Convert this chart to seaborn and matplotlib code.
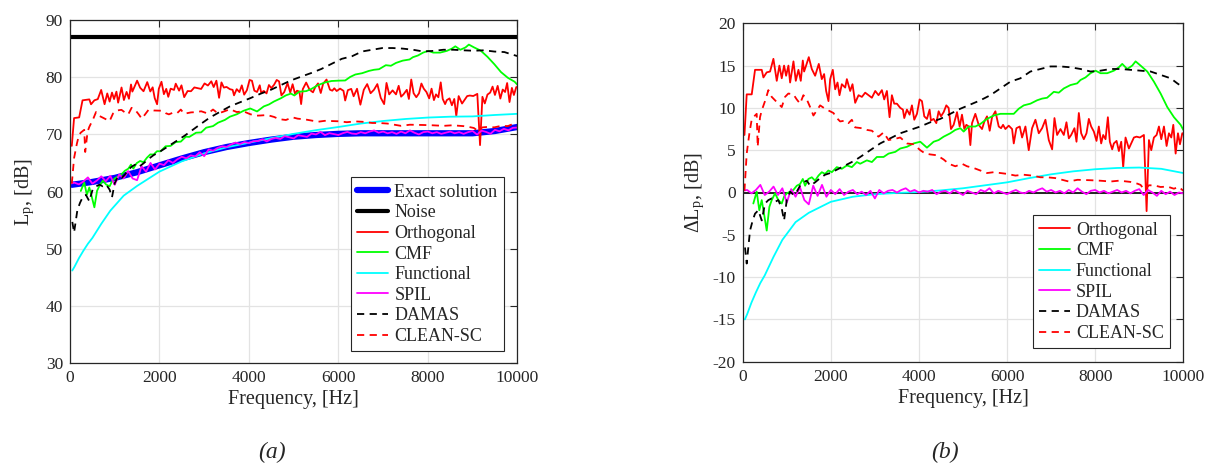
import numpy as np
import matplotlib
matplotlib.use("Agg")
import matplotlib.pyplot as plt
import seaborn as sns

# ---- data (frequency in Hz, levels in dB) ----
exact_f = [40, 500, 1000, 1500, 2000, 2500, 3000, 3500, 4000, 4500, 5000,
           5500, 6000, 6500, 7000, 7500, 8000, 8500, 9000, 9500, 10000]
exact_l = [61.2, 61.7, 62.4, 63.4, 64.6, 65.8, 66.9, 67.8, 68.5, 69.1, 69.6,
           69.9, 70.1, 70.2, 70.2, 70.2, 70.2, 70.2, 70.2, 70.6, 71.3]

noise_f = [0, 10000]
noise_l = [87.0, 87.0]

# deltas relative to the exact solution (right panel)
orth_f = [40, 91, 205, 280, 432, 470, 545, 621, 697, 773,
          833, 886, 939, 985, 1038, 1076, 1152, 1205, 1265, 1318,
          1364, 1394, 1439, 1500, 1568, 1644, 1727, 1795, 1848, 1894,
          1947, 1985, 2045, 2099, 2152, 2197, 2250, 2326, 2364, 2439,
          2492, 2553, 2629, 2705, 2780, 2856, 2932, 3008, 3083, 3159,
          3212, 3273, 3333, 3386, 3439, 3500, 3576, 3636, 3667, 3727,
          3788, 3841, 3894, 3955, 4015, 4068, 4121, 4182, 4242, 4273,
          4333, 4394, 4447, 4500, 4561, 4621, 4674, 4727, 4788, 4864,
          4924, 4977, 5030, 5076, 5129, 5167, 5205, 5280, 5356, 5432,
          5485, 5545, 5606, 5659, 5735, 5811, 5864, 5909, 5962, 6038,
          6114, 6152, 6212, 6288, 6341, 6417, 6492, 6568, 6644, 6720,
          6795, 6871, 6947, 7023, 7076, 7136, 7212, 7288, 7348, 7402,
          7455, 7530, 7576, 7629, 7682, 7742, 7803, 7856, 7909, 7970,
          8030, 8083, 8136, 8182, 8235, 8288, 8333, 8386, 8424, 8485,
          8538, 8591, 8636, 8689, 8765, 8818, 8879, 8939, 9015, 9106,
          9167, 9220, 9273, 9333, 9394, 9447, 9500, 9561, 9621, 9674,
          9727, 9773, 9826, 9879, 9924, 9977, 10000]
orth_d = [6.8, 11.6, 11.6, 14.5, 14.5, 13.6, 14.2, 14.3, 15.8, 13.2,
          15.0, 13.5, 15.0, 13.8, 15.0, 13.0, 15.5, 13.2, 14.5, 13.2,
          15.6, 14.3, 15.0, 16.0, 14.6, 13.8, 15.2, 13.4, 14.0, 12.0,
          10.8, 13.4, 14.5, 12.2, 13.0, 11.5, 12.8, 12.4, 13.4, 12.0,
          12.8, 10.6, 11.5, 11.3, 11.8, 11.5, 11.2, 12.0, 11.5, 12.1,
          11.0, 12.0, 8.9, 11.5, 10.5, 10.5, 10.0, 9.8, 8.8, 9.8,
          9.2, 10.3, 8.6, 9.3, 11.0, 10.8, 9.0, 8.7, 9.8, 8.5,
          8.7, 8.2, 9.6, 9.0, 9.5, 10.3, 10.0, 7.5, 8.0, 9.5,
          7.8, 9.2, 7.5, 8.0, 7.8, 5.6, 8.2, 9.3, 8.0, 7.5,
          8.4, 9.0, 7.3, 8.9, 9.6, 7.8, 7.6, 8.0, 7.5, 7.9,
          7.5, 5.8, 7.6, 7.8, 6.5, 7.8, 5.0, 7.6, 8.6, 7.0,
          7.6, 8.6, 6.2, 5.1, 8.8, 6.8, 7.5, 6.8, 8.3, 6.4,
          6.8, 7.6, 6.0, 9.4, 7.0, 6.3, 7.0, 8.7, 7.8, 7.2,
          6.1, 7.8, 5.8, 6.8, 6.3, 8.9, 6.0, 5.1, 5.8, 6.1,
          4.9, 6.0, 3.0, 6.5, 5.2, 5.8, 6.5, 6.6, 6.5, 6.8,
          -2.2, 6.2, 5.0, 6.5, 6.8, 7.8, 6.3, 7.8, 5.5, 7.0,
          6.5, 8.0, 4.6, 7.0, 5.7, 7.0, 7.0]

cmf_f = [241, 318, 377, 432, 484, 545, 605, 659, 734, 809,
         886, 939, 1000, 1075, 1150, 1227, 1302, 1364, 1416, 1491,
         1568, 1643, 1720, 1795, 1870, 1945, 2023, 2136, 2250, 2364,
         2477, 2591, 2667, 2818, 2932, 3045, 3197, 3311, 3462, 3576,
         3727, 3879, 4030, 4182, 4333, 4447, 4561, 4712, 4826, 4939,
         5015, 5129, 5280, 5394, 5545, 5697, 5848, 6000, 6152, 6265,
         6379, 6530, 6682, 6795, 6909, 7061, 7174, 7288, 7439, 7591,
         7667, 7780, 7894, 8008, 8121, 8273, 8424, 8538, 8614, 8727,
         8841, 8917, 9030, 9182, 9333, 9485, 9636, 9788, 9939, 10000]
cmf_d = [-1.3, 0.1, -2.1, -0.9, -2.5, -4.5, -1.7, -0.9, -0.1, -0.9,
         -1.3, -0.5, -0.1, 0.1, 0.3, 0.8, 1.0, 1.6, 0.8, 1.6,
         1.8, 1.4, 2.0, 2.4, 2.2, 2.6, 2.4, 3.0, 2.8, 3.2,
         3.0, 3.6, 3.4, 3.8, 3.6, 4.2, 4.2, 4.6, 4.8, 5.2,
         5.4, 5.8, 6.0, 5.3, 6.0, 6.2, 6.6, 7.0, 7.4, 7.6,
         7.2, 7.8, 7.8, 8.1, 8.7, 9.1, 9.3, 9.3, 9.3, 9.9,
         10.3, 10.5, 10.9, 11.1, 11.2, 11.9, 11.8, 12.3, 12.7, 12.9,
         13.3, 13.6, 14.1, 14.4, 14.1, 14.1, 14.4, 14.8, 15.2, 14.6,
         15.0, 15.5, 15.0, 14.3, 13.1, 11.7, 10.1, 8.9, 8.0, 7.4]

func_f = [50, 100, 200, 300, 400, 500, 700, 900, 1200, 1500, 2000, 2500,
          3000, 3500, 4000, 4500, 5000, 5500, 6000, 6500, 7000, 7500, 8000,
          8500, 9000, 9500, 10000]
func_d = [-15.0, -14.4, -13.0, -11.8, -10.7, -9.8, -7.6, -5.6, -3.5, -2.4,
          -1.1, -0.5, -0.2, -0.05, 0.05, 0.25, 0.5, 0.85, 1.2, 1.7, 2.15,
          2.5, 2.75, 2.9, 2.95, 2.8, 2.3]

spil_f = list(range(0, 10001, 100))
spil_d = [0.2, 0.3, -0.1, 0.3, 0.9, -0.3, 0.1, 0.7, -0.3, 0.5,
          -1.2, 0.4, -0.5, 0.6, -0.9, -1.4, 0.8, -0.4, 0.9, -0.5,
          0.3, -0.2, 0.4, -0.3, 0.1, 0.3, -0.2, 0.1, -0.3, 0.2,
          -0.7, 0.3, -0.1, 0.2, 0.3, 0.0, 0.3, 0.5, 0.1, 0.3,
          0.0, 0.2, 0.1, 0.3, -0.2, 0.1, 0.2, -0.1, 0.3, 0.0,
          -0.3, 0.2, 0.0, -0.2, 0.3, 0.1, 0.5, -0.1, 0.2, 0.0,
          -0.2, 0.1, 0.3, 0.0, -0.1, 0.2, 0.0, 0.3, 0.5, 0.1,
          0.3, 0.0, 0.2, -0.1, 0.3, 0.0, 0.5, 0.1, -0.2, 0.2,
          0.3, 0.0, 0.2, -0.1, 0.1, 0.3, 0.0, 0.2, -0.1, 0.2,
          0.4, -0.3, 0.3, 0.0, -0.4, 0.2, -0.2, 0.1, -0.3, 0.0,
          -0.1]

damas_f = [52, 91, 166, 227, 280, 355, 432, 507, 582, 659,
           734, 809, 886, 939, 1000, 1075, 1159, 1227, 1302, 1377,
           1455, 1530, 1643, 1757, 1870, 1985, 2100, 2212, 2364, 2439,
           2550, 2667, 2894, 3121, 3348, 3576, 3803, 4030, 4258, 4485,
           4712, 4939, 5167, 5394, 5621, 5848, 6076, 6303, 6530, 6758,
           6985, 7212, 7439, 7667, 7894, 8121, 8348, 8576, 8803, 9030,
           9258, 9485, 9712, 9864, 10000]
damas_d = [-6.5, -8.4, -4.5, -3.3, -2.5, -2.1, -3.3, -1.3, -0.9, -0.7,
           -1.1, -0.9, -1.9, -3.3, -0.9, 0.1, -0.3, 0.1, 0.8, 1.2,
           1.4, 0.8, 1.2, 1.7, 2.1, 2.3, 2.6, 2.9, 3.3, 3.5,
           3.8, 4.2, 5.0, 5.8, 6.4, 7.0, 7.4, 7.8, 8.3, 8.7,
           9.3, 9.9, 10.4, 10.9, 11.5, 12.3, 13.1, 13.5, 14.3, 14.6,
           14.9, 14.9, 14.8, 14.6, 14.3, 14.4, 14.6, 14.6, 14.5, 14.4,
           14.3, 13.9, 13.5, 12.9, 12.4]

clean_f = [40, 91, 152, 200, 241, 318, 340, 393, 432, 520,
           582, 659, 734, 809, 886, 961, 1036, 1150, 1227, 1302,
           1377, 1455, 1530, 1605, 1682, 1757, 1870, 1945, 2059, 2136,
           2211, 2325, 2400, 2477, 2552, 2705, 2818, 2932, 3083, 3197,
           3311, 3424, 3576, 3727, 3879, 4030, 4144, 4258, 4409, 4561,
           4674, 4826, 4977, 5091, 5241, 5393, 5545, 5697, 5850, 6000,
           6189, 6377, 6568, 6757, 6909, 7098, 7250, 7400, 7600, 7893,
           8100, 8348, 8550, 8802, 8955, 9030, 9120, 9218, 9332, 9484,
           9636, 9786, 9900, 10000]
clean_d = [0.2, 4.6, 7.0, 8.5, 8.9, 9.3, 5.4, 8.9, 9.7, 11.0,
           12.1, 11.3, 10.9, 10.5, 10.1, 11.3, 11.7, 11.6, 11.0, 10.5,
           11.5, 11.0, 10.1, 9.1, 9.7, 10.3, 9.9, 9.7, 9.4, 8.8,
           8.4, 8.5, 8.2, 8.6, 7.7, 7.6, 7.4, 7.3, 6.6, 7.1,
           6.2, 6.3, 6.5, 5.8, 5.7, 5.0, 4.6, 4.5, 4.4, 3.9,
           3.4, 3.1, 3.4, 3.1, 2.9, 2.6, 2.3, 2.4, 2.3, 2.2,
           2.0, 2.1, 2.0, 1.8, 1.8, 1.7, 1.5, 1.3, 1.5, 1.45,
           1.4, 1.3, 1.4, 1.25, 1.05, 0.9, 0.3, 0.85, 0.85, 0.65,
           0.7, 0.45, 0.65, 0.2]

methods = [
    ("Orthogonal", orth_f, orth_d, "#ff0000", "-"),
    ("CMF", cmf_f, cmf_d, "#00ff00", "-"),
    ("Functional", func_f, func_d, "#00ffff", "-"),
    ("SPIL", spil_f, spil_d, "#ff00ff", "-"),
    ("DAMAS", damas_f, damas_d, "#000000", "--"),
    ("CLEAN-SC", clean_f, clean_d, "#ff0000", "--"),
]

sns.set_style("white")
plt.rcParams['font.family'] = ['Liberation Serif', 'DejaVu Serif']
plt.rcParams['mathtext.fontset'] = 'stix'
plt.rcParams['axes.unicode_minus'] = False
plt.rcParams['lines.dashed_pattern'] = (4.0, 3.0)

fig = plt.figure(figsize=(12.09, 4.66), dpi=100)
ax1 = fig.add_axes([70 / 1209, 1 - 363.3 / 466, 447.3 / 1209, 343.3 / 466])
ax2 = fig.add_axes([742.7 / 1209, 1 - 361.7 / 466, 440.6 / 1209, 338.4 / 466])

LW = 1.3

# (a) absolute levels = exact + delta
sns.lineplot(x=exact_f, y=exact_l, ax=ax1, color="#0000ff", lw=4.5,
             label="Exact solution", sort=False)
sns.lineplot(x=noise_f, y=noise_l, ax=ax1, color="k", lw=3,
             label="Noise", sort=False)
for name, f, d, c, ls in methods:
    lp = np.interp(f, exact_f, exact_l) + np.array(d)
    sns.lineplot(x=f, y=lp, ax=ax1, color=c, lw=LW, linestyle=ls,
                 label=name, sort=False)

# (b) deviation from exact solution
ax2.axhline(0, color="k", lw=1.2, zorder=1)
for name, f, d, c, ls in methods:
    sns.lineplot(x=f, y=d, ax=ax2, color=c, lw=LW, linestyle=ls,
                 label=name, sort=False)

ax1.set_ylim(30, 90)
ax1.set_yticks(range(30, 91, 10))
ax2.set_ylim(-20, 20)
ax2.set_yticks(range(-20, 21, 5))
ax1.set_ylabel(r"L$_\mathregular{p}$, [dB]", fontsize=14.5, labelpad=6)
ax2.set_ylabel(r"ΔL$_\mathregular{p}$, [dB]", fontsize=14.5, labelpad=4)

for ax in (ax1, ax2):
    ax.set_xlim(0, 10000)
    ax.set_xticks(range(0, 10001, 2000))
    ax.set_xlabel("Frequency, [Hz]", fontsize=14.5, labelpad=3)
    ax.grid(True, color="#e3e3e3", lw=0.9)
    ax.set_axisbelow(True)
    ax.tick_params(direction="in", length=5, width=0.8, top=True,
                   right=True, labelsize=12.5, colors="#262626",
                   labelcolor="#262626", pad=5)
    for s in ax.spines.values():
        s.set_color("#262626")
        s.set_linewidth(0.9)
        s.set_visible(True)

leg_kw = dict(frameon=True, fancybox=False, edgecolor="#262626",
              fontsize=13, handlelength=1.7, handletextpad=0.35,
              labelspacing=0.2, borderpad=0.35, borderaxespad=0,
              loc="lower right", framealpha=1)
l1 = ax1.legend(bbox_to_anchor=(0.97, 0.035), **leg_kw)
l2 = ax2.legend(bbox_to_anchor=(0.97, 0.04), **leg_kw)
for lg in (l1, l2):
    lg.get_frame().set_linewidth(0.8)

fig.text(272 / 1209, 1 - 452 / 466, "(a)", style="italic", fontsize=17,
         ha="center", va="center")
fig.text(945 / 1209, 1 - 452 / 466, "(b)", style="italic", fontsize=17,
         ha="center", va="center")

fig.savefig("out.png", dpi=100)
